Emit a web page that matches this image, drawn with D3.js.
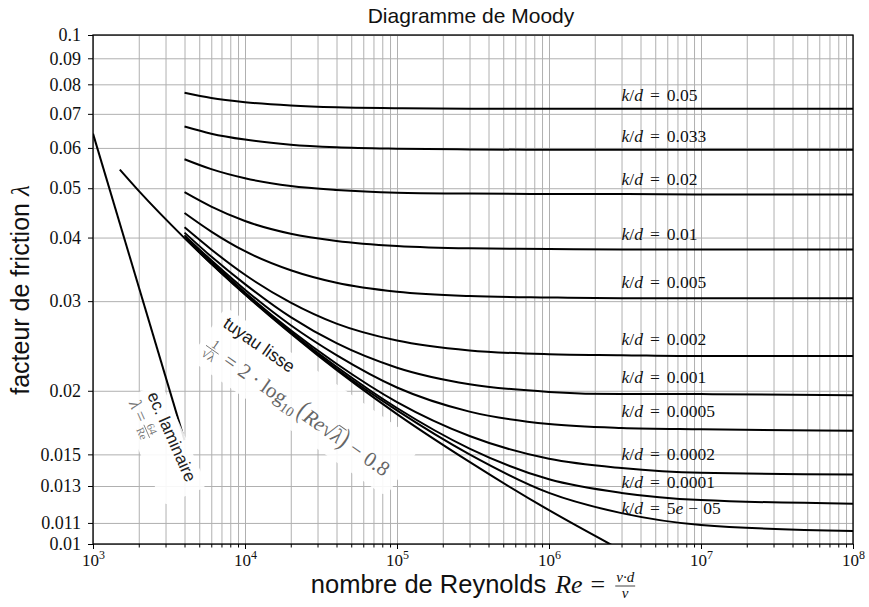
<!DOCTYPE html>
<html><head><meta charset="utf-8">
<script src="https://cdn.jsdelivr.net/npm/d3@7"></script>
<style>body{margin:0;background:#fff}</style>
</head><body><svg id="c" width="869" height="607"></svg>
<script>
// ---------- DATA ----------
const reynolds = [4e3, 6e3, 1e4, 2e4, 4e4, 1e5, 3e5, 1e6, 3e6, 1e7, 1e8];
const roughness = [0.05, 0.033, 0.02, 0.01, 0.005, 0.002, 0.001, 0.0005, 0.0002, 0.0001, 0.00005];
const roughnessLabels = ["0.05", "0.033", "0.02", "0.01", "0.005", "0.002", "0.001", "0.0005", "0.0002", "0.0001", "5e\u221205"];
const f_0_05    = [0.0770, 0.0752, 0.0738, 0.0727, 0.0721, 0.0718, 0.0716, 0.0716, 0.0716, 0.0716, 0.0716];
const f_0_033   = [0.0661, 0.0640, 0.0623, 0.0609, 0.0602, 0.0598, 0.0596, 0.0595, 0.0595, 0.0595, 0.0595];
const f_0_02    = [0.0570, 0.0545, 0.0523, 0.0505, 0.0496, 0.0490, 0.0488, 0.0487, 0.0487, 0.0486, 0.0486];
const f_0_01    = [0.0491, 0.0460, 0.0431, 0.0407, 0.0394, 0.0385, 0.0381, 0.0380, 0.0379, 0.0379, 0.0379];
const f_0_005   = [0.0447, 0.0411, 0.0376, 0.0345, 0.0326, 0.0313, 0.0307, 0.0305, 0.0304, 0.0304, 0.0304];
const f_0_002   = [0.0419, 0.0379, 0.0338, 0.0298, 0.0271, 0.0251, 0.0240, 0.0236, 0.0235, 0.0234, 0.0234];
const f_0_001   = [0.0409, 0.0367, 0.0324, 0.0279, 0.0248, 0.0222, 0.0206, 0.0199, 0.0197, 0.0197, 0.0196];
const f_0_0005  = [0.0404, 0.0361, 0.0316, 0.0269, 0.0235, 0.0203, 0.0182, 0.0172, 0.0169, 0.0168, 0.0167];
const f_0_0002  = [0.0401, 0.0358, 0.0312, 0.0263, 0.0226, 0.0190, 0.0163, 0.0147, 0.0141, 0.0138, 0.0137];
const f_0_0001  = [0.0400, 0.0356, 0.0310, 0.0261, 0.0223, 0.0185, 0.0154, 0.0134, 0.0126, 0.0122, 0.0120];
const f_0_00005 = [0.0400, 0.0356, 0.0310, 0.0260, 0.0221, 0.0183, 0.0150, 0.0126, 0.0115, 0.0109, 0.0106];
const frictionSeries = [f_0_05, f_0_033, f_0_02, f_0_01, f_0_005, f_0_002, f_0_001, f_0_0005, f_0_0002, f_0_0001, f_0_00005];
const labelRe = 3e6;
const labelLambda = [0.0742, 0.0616, 0.0507, 0.0396, 0.0318, 0.0246, 0.0207, 0.0178, 0.0146, 0.0129, 0.01145];

const reSmooth = [1500, 2000, 4000, 1e4, 3e4, 1e5, 3e5, 1e6, 3e6];
const fSmooth  = [0.0544, 0.0494, 0.0399, 0.0309, 0.0235, 0.0180, 0.0145, 0.01165, 0.00972];
const reLaminar = [1000, 4000];
const fLaminar  = [0.064, 0.016];

const yTicks = [0.01, 0.011, 0.013, 0.015, 0.02, 0.03, 0.04, 0.05, 0.06, 0.07, 0.08, 0.09, 0.1];
const yTickLabels = ["0.01", "0.011", "0.013", "0.015", "0.02", "0.03", "0.04", "0.05", "0.06", "0.07", "0.08", "0.09", "0.1"];
const xMajorTicks = [1e3, 1e4, 1e5, 1e6, 1e7, 1e8];
const xMajorExponents = ["3", "4", "5", "6", "7", "8"];

// ---------- LAYOUT ----------
const L = 93, R = 853, T = 35, B = 544;
const SERIF = "'Liberation Serif','DejaVu Serif',serif";
const SANS = "'Liberation Sans',Arial,sans-serif";
const svg = d3.select('#c');
const x = d3.scaleLog().domain([1e3, 1e8]).range([L, R]);
const y = d3.scaleLog().domain([0.01, 0.1]).range([B, T]);

// grid
const gridCol = '#b0b0b0';
svg.append('g').attr('transform', `translate(0,${B})`)
  .call(d3.axisBottom(x).tickValues(x.ticks()).tickSize(-(B - T)).tickFormat(''))
  .call(g => g.select('.domain').remove())
  .call(g => g.selectAll('line').attr('stroke', gridCol).attr('stroke-width', 1));
svg.append('g').attr('transform', `translate(${L},0)`)
  .call(d3.axisLeft(y).tickValues(yTicks).tickSize(-(R - L)).tickFormat(''))
  .call(g => g.select('.domain').remove())
  .call(g => g.selectAll('line').attr('stroke', gridCol).attr('stroke-width', 1));

// clip
svg.append('clipPath').attr('id', 'clip').append('rect')
  .attr('x', L).attr('y', T).attr('width', R - L).attr('height', B - T);
const plot = svg.append('g').attr('clip-path', 'url(#clip)');
const line = d3.line().x(d => x(d[0])).y(d => y(d[1])).curve(d3.curveMonotoneX);

frictionSeries.forEach(fs => {
  plot.append('path').datum(reynolds.map((r, i) => [r, fs[i]]))
    .attr('d', line).attr('fill', 'none').attr('stroke', '#000').attr('stroke-width', 2);
});
plot.append('path').datum(reSmooth.map((r, i) => [r, fSmooth[i]]))
  .attr('d', line).attr('fill', 'none').attr('stroke', '#000').attr('stroke-width', 2);
plot.append('path').datum(reLaminar.map((r, i) => [r, fLaminar[i]]))
  .attr('d', d3.line().x(d => x(d[0])).y(d => y(d[1]))).attr('fill', 'none').attr('stroke', '#000').attr('stroke-width', 2);

// k/d labels
roughnessLabels.forEach((lab, i) => {
  const t = svg.append('text').attr('x', x(labelRe)).attr('y', y(labelLambda[i]))
    .attr('font-family', SERIF).attr('font-size', 17.5).attr('fill', '#111');
  t.append('tspan').attr('font-style', 'italic').text('k');
  t.append('tspan').text('/');
  t.append('tspan').attr('font-style', 'italic').text('d');
  t.append('tspan').attr('dx', 7).text('=');
  if (lab.includes('e')) {
    const [a, b] = lab.split('e');
    t.append('tspan').attr('dx', 7).text(a);
    t.append('tspan').attr('font-style', 'italic').text('e');
    t.append('tspan').attr('dx', 5).text('\u2212');
    t.append('tspan').attr('dx', 5).text(b.replace('\u2212', ''));
  } else {
    t.append('tspan').attr('dx', 7).text(lab);
  }
});

// axes
const xAxis = svg.append('g').attr('transform', `translate(0,${B})`)
  .call(d3.axisBottom(x).tickValues(x.ticks().filter(v => !xMajorTicks.includes(v))).tickSize(3.5).tickFormat(''));
xAxis.selectAll('line').attr('stroke', '#000').attr('stroke-width', 1);
const xAxisMaj = svg.append('g').attr('transform', `translate(0,${B})`)
  .call(d3.axisBottom(x).tickValues(xMajorTicks).tickSize(5).tickFormat(''));
xAxisMaj.selectAll('line').attr('stroke', '#000').attr('stroke-width', 1);
xAxisMaj.selectAll('.tick').each(function (d, i) {
  const t = d3.select(this).append('text').attr('y', 22).attr('text-anchor', 'middle')
    .attr('font-family', SERIF).attr('font-size', 17).attr('fill', '#111');
  t.append('tspan').text('10');
  t.append('tspan').attr('dy', -7).attr('font-size', 12).text(xMajorExponents[i]);
});
const yAxis = svg.append('g').attr('transform', `translate(${L},0)`)
  .call(d3.axisLeft(y).tickValues(yTicks).tickSize(5).tickPadding(7).tickFormat((d, i) => yTickLabels[i]));
yAxis.selectAll('line').attr('stroke', '#000').attr('stroke-width', 1);
yAxis.selectAll('text').attr('font-family', SERIF).attr('font-size', 18).attr('fill', '#111');
[xAxis, xAxisMaj, yAxis].forEach(g => g.select('.domain').remove());
svg.append('rect').attr('x', L).attr('y', T).attr('width', R - L).attr('height', B - T)
  .attr('fill', 'none').attr('stroke', '#000').attr('stroke-width', 1.3);

// ---------- helpers for math-ish text ----------
function run(g, x0, y0, parts, fill) {
  let cx = x0;
  parts.forEach(p => {
    if (p.frac) {
      const fs = p.fs || 10, bar = p.bar || 4;
      const n = g.append('text').attr('y', y0 - bar - (p.nd || 2)).attr('font-family', SERIF).attr('font-size', fs)
        .attr('font-style', p.it ? 'italic' : 'normal').attr('fill', fill).attr('text-anchor', 'middle').text(p.num);
      const d = g.append('text').attr('y', y0 - bar + (p.dd || fs * 0.8)).attr('font-family', SERIF).attr('font-size', fs)
        .attr('font-style', p.it ? 'italic' : 'normal').attr('fill', fill).attr('text-anchor', 'middle').text(p.den);
      const w = Math.max(n.node().getComputedTextLength(), d.node().getComputedTextLength()) + 2;
      n.attr('x', cx + w / 2); d.attr('x', cx + w / 2);
      g.append('line').attr('x1', cx).attr('x2', cx + w).attr('y1', y0 - bar).attr('y2', y0 - bar)
        .attr('stroke', fill).attr('stroke-width', 0.8);
      cx += w + (p.sp || 0);
      return;
    }
    const t = g.append('text').attr('x', cx).attr('y', y0 + (p.dy || 0))
      .attr('font-family', p.ff || SERIF).attr('font-size', p.fs || 14)
      .attr('font-style', p.it ? 'italic' : 'normal').attr('fill', p.fill || fill).text(p.t);
    if (p.sy) t.attr('transform', `translate(${cx},${y0}) scale(1,${p.sy}) translate(${-cx},${-y0})`);
    const w = t.node().getComputedTextLength();
    if (p.over) g.append('line').attr('x1', cx).attr('x2', cx + w).attr('y1', y0 - p.over).attr('y2', y0 - p.over)
      .attr('stroke', p.fill || fill).attr('stroke-width', 1);
    cx += w + (p.sp || 0);
  });
  return cx;
}

// title
svg.append('text').attr('x', (L + R) / 2 - 2).attr('y', 23).attr('text-anchor', 'middle')
  .attr('font-family', SANS).attr('font-size', 21).attr('fill', '#111').text('Diagramme de Moody');

// y label
const yl = svg.append('text').attr('transform', `translate(29,290) rotate(-90)`).attr('text-anchor', 'middle')
  .attr('font-family', SANS).attr('font-size', 25).attr('fill', '#111');
yl.append('tspan').text('facteur de friction');
yl.append('tspan').attr('dx', 7).attr('font-family', SERIF).attr('font-style', 'italic').text('λ');

// x label
const xl = svg.append('g');
const xEnd = run(xl, 0, 593, [
  { t: 'nombre de Reynolds', ff: SANS, fs: 25.5, sp: 9 },
  { t: 'Re', it: true, fs: 26, sp: 8 },
  { t: '=', fs: 26, sp: 10 },
  { frac: true, num: 'v·d', den: 'ν', it: true, fs: 15, bar: 7, nd: 4, dd: 12 }
], '#111');
xl.attr('transform', `translate(${(L + R) / 2 - xEnd / 2},0)`);

// annotation: laminar
const a1 = svg.append('g').attr('transform', 'translate(147,395) rotate(66)');
a1.append('rect').attr('x', -6).attr('y', -18).attr('width', 114).attr('height', 48)
  .attr('rx', 6).attr('fill', '#fff').attr('opacity', 0.9);
a1.append('text').attr('x', 0).attr('y', 0).attr('font-family', SANS).attr('font-size', 17)
  .attr('fill', '#222').text('ec. laminaire');
run(a1, 0, 20, [
  { t: 'λ', it: true, fs: 18, sp: 4 },
  { t: '=', fs: 18, sp: 4 },
  { frac: true, num: '64', den: 'Re', it: false, fs: 11, bar: 5, nd: 2, dd: 9 }
], '#777');

// annotation: smooth pipe
const a2 = svg.append('g').attr('transform', 'translate(222,326) rotate(35)');
a2.append('rect').attr('x', -8).attr('y', -18).attr('width', 240).attr('height', 64)
  .attr('rx', 7).attr('fill', '#fff').attr('opacity', 0.9);
a2.append('text').attr('x', 0).attr('y', 0).attr('font-family', SANS).attr('font-size', 17.5)
  .attr('fill', '#1a1a1a').text('tuyau lisse');
run(a2, -2, 31, [
  { frac: true, num: '1', den: '√λ', fs: 13, bar: 6, nd: 2, dd: 11, sp: 8 },
  { t: '=', fs: 21, sp: 6 },
  { t: '2 · log', fs: 21 },
  { t: '10', fs: 14, dy: 5, sp: 3 },
  { t: '(', fs: 21, sy: 1.35, sp: 1 },
  { t: 'Re', it: true, fs: 21 },
  { t: '√', fs: 21 },
  { t: 'λ', it: true, fs: 21, over: 17 },
  { t: ')', fs: 21, sy: 1.35, sp: 6 },
  { t: '−', fs: 21, sp: 6 },
  { t: '0.8', fs: 21 }
], '#666');
</script></body></html>
